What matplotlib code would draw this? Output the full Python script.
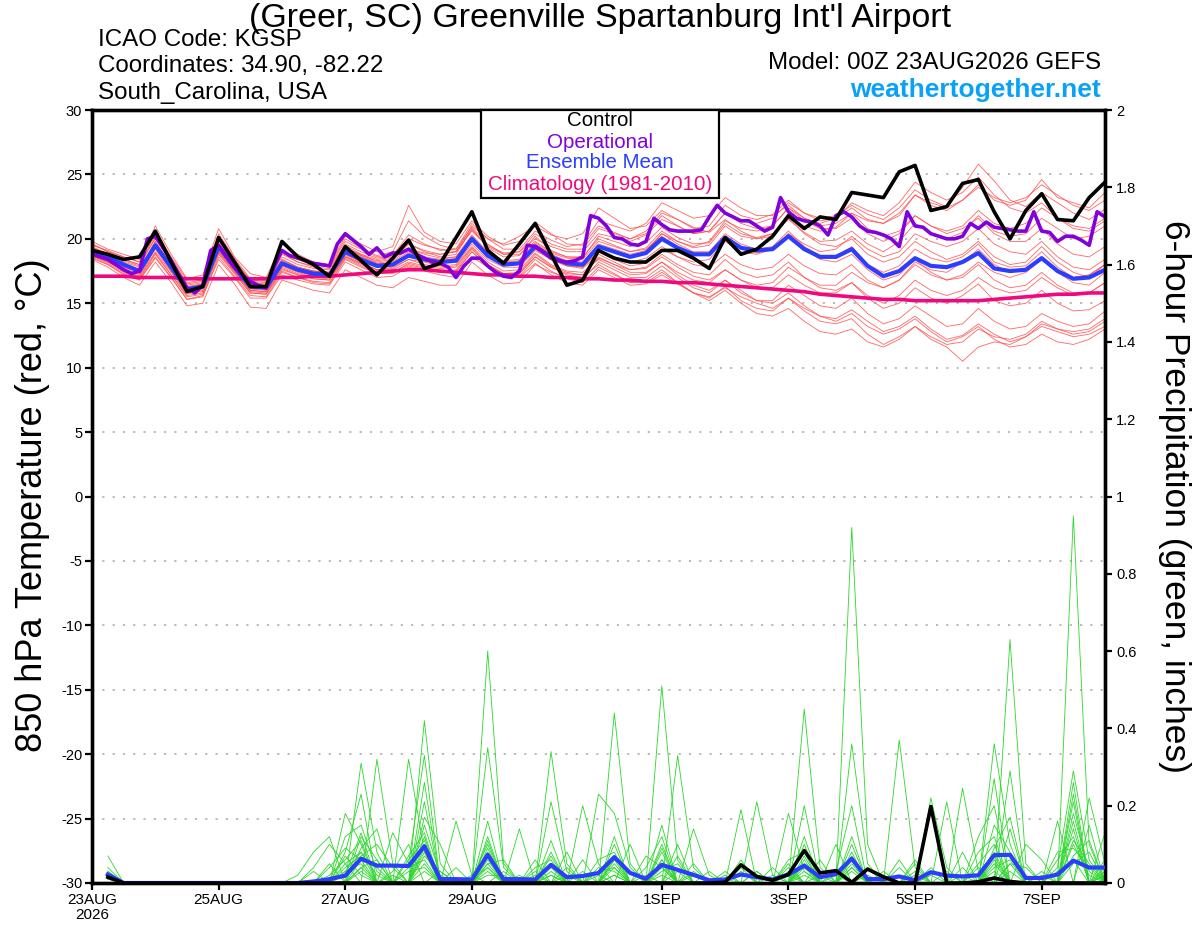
import numpy as np
import pandas as pd
import matplotlib
matplotlib.use("Agg")
import matplotlib.pyplot as plt
from matplotlib.patches import Rectangle

# ---- data --------------------------------------------------------------
run_start = "2026-08-23 00:00"

# control (c00) 850 hPa temperature, 6-hourly, 0..384 h
ctrl_temp = [19.1, 18.8, 18.4, 18.6, 20.6, 18.2, 15.9, 16.3, 20.1, 18.2,
             16.3, 16.3, 19.8, 18.6, 18.0, 17.1, 19.4, 18.3, 17.2, 18.5,
             19.9, 17.7, 18.1, 20.1, 22.1, 19.1, 18.1, 19.6, 21.2, 18.8,
             16.4, 16.8, 19.1, 18.5, 18.2, 18.2, 19.1, 19.1, 18.5, 17.7,
             20.1, 18.8, 19.2, 20.2, 21.8, 20.8, 21.7, 21.5, 23.6, 23.4,
             23.2, 25.2, 25.7, 22.2, 22.5, 24.3, 24.6, 22.1, 20.0, 22.2,
             23.5, 21.5, 21.4, 23.2, 24.4]

# operational GFS, 3-hourly
oper_temp = [18.8, 18.6, 18.4, 18.0, 17.6, 17.3, 17.5, 20.0, 20.2, 19.3,
             18.3, 17.2, 16.2, 15.8, 16.4, 19.1, 19.5, 18.6, 17.8, 17.2,
             16.7, 16.4, 16.2, 17.8, 19.1, 18.7, 18.5, 18.3, 18.1, 18.0,
             17.9, 19.6, 20.4, 19.9, 19.4, 18.8, 19.3, 18.6, 18.9, 18.9,
             19.2, 18.8, 18.5, 18.2, 18.1, 17.8, 17.0, 17.9, 18.5, 18.5,
             17.9, 17.4, 17.1, 17.0, 17.5, 19.5, 19.4, 19.0, 18.5, 18.3,
             18.2, 18.3, 18.6, 21.8, 21.6, 21.0, 20.1, 20.0, 19.6, 19.5,
             19.8, 21.6, 21.1, 20.7, 20.6, 20.6, 20.6, 20.7, 21.7, 22.6,
             22.0, 21.7, 21.4, 21.4, 21.0, 20.6, 20.9, 23.2, 22.1, 21.6,
             21.4, 21.3, 21.0, 20.3, 21.8, 22.1, 21.7, 21.0, 20.6, 20.5,
             20.3, 20.0, 19.4, 22.1, 21.0, 20.9, 20.4, 20.2, 20.0, 20.0,
             20.2, 21.2, 20.8, 21.3, 20.9, 20.8, 20.7, 20.6, 20.6, 22.1,
             20.6, 20.5, 19.8, 20.2, 20.2, 19.9, 19.5, 22.1, 21.7]

mean_temp = [19.1, 18.6, 18.0, 17.5, 19.5, 17.8, 16.1, 16.3, 19.4, 17.8,
             16.3, 16.2, 18.1, 17.6, 17.3, 17.2, 19.0, 18.4, 17.9, 18.0,
             18.7, 18.4, 18.2, 18.3, 20.0, 18.7, 18.0, 18.1, 19.4, 18.6,
             18.1, 18.0, 19.4, 19.0, 18.6, 18.9, 20.0, 19.3, 18.8, 18.8,
             20.1, 19.3, 19.1, 19.2, 20.2, 19.2, 18.6, 18.6, 19.2, 17.9,
             17.1, 17.5, 18.5, 17.9, 17.8, 18.2, 18.9, 17.7, 17.5, 17.6,
             18.5, 17.5, 16.9, 17.0, 17.6]

clim_temp = [17.1, 17.1, 17.1, 17.0, 17.0, 17.0, 16.9, 16.9, 16.9, 16.9,
             16.9, 16.9, 17.0, 17.0, 17.1, 17.1, 17.2, 17.3, 17.4, 17.5,
             17.6, 17.6, 17.5, 17.4, 17.3, 17.2, 17.2, 17.1, 17.1, 17.0,
             17.0, 16.9, 16.9, 16.8, 16.8, 16.7, 16.7, 16.6, 16.6, 16.5,
             16.4, 16.3, 16.2, 16.1, 16.0, 15.9, 15.7, 15.6, 15.5, 15.4,
             15.3, 15.3, 15.2, 15.2, 15.2, 15.2, 15.2, 15.3, 15.4, 15.5,
             15.6, 15.7, 15.7, 15.8, 15.8]

# perturbed members, 850 hPa temperature (thin red)
member_temps = [
    [19.6, 19.0, 18.6, 18.2, 21.0, 18.8, 16.9, 17.2, 20.8, 18.6, 17.3, 17.0, 19.6, 18.8, 18.2, 18.0,
     20.2, 19.6, 19.0, 19.4, 22.6, 20.5, 19.8, 19.6, 21.4, 20.2, 19.5, 19.8, 21.3, 20.4, 19.6, 19.5,
     21.0, 20.5, 20.0, 20.6, 22.0, 21.5, 20.8, 21.0, 22.6, 21.8, 21.5, 21.9, 23.0, 22.0, 21.6, 21.8,
     22.6, 21.9, 21.5, 22.4, 23.8, 23.0, 22.5, 24.0, 25.8, 24.5, 23.0, 22.5, 23.6, 22.8, 22.0, 21.5, 22.3],
    [18.5, 18.0, 17.2, 16.8, 18.5, 17.0, 15.3, 15.6, 18.4, 17.0, 15.4, 15.4, 17.2, 16.8, 16.5, 16.4,
     18.2, 17.6, 17.0, 17.1, 17.8, 17.5, 17.2, 17.0, 18.6, 17.8, 17.0, 17.0, 18.1, 17.2, 16.6, 16.4,
     17.6, 17.0, 16.4, 16.5, 17.2, 16.5, 15.8, 15.5, 16.2, 15.5, 15.0, 14.6, 15.4, 14.6, 14.0, 13.8,
     14.5, 13.6, 12.8, 13.2, 14.0, 13.0, 12.2, 12.5, 13.4, 12.6, 12.0, 12.4, 13.2, 12.8, 12.4, 12.6, 13.2],
    [19.4, 18.8, 18.3, 17.9, 20.1, 18.2, 16.4, 16.6, 19.9, 18.1, 16.6, 16.5, 18.6, 18.0, 17.7, 17.6,
     19.5, 18.8, 18.2, 18.4, 19.6, 19.0, 18.6, 18.8, 20.8, 19.3, 18.6, 18.7, 20.2, 19.1, 18.6, 18.5,
     20.2, 19.8, 19.4, 19.7, 20.9, 20.1, 19.6, 19.7, 21.2, 20.4, 20.1, 20.4, 21.5, 20.5, 19.8, 19.9,
     20.6, 19.6, 19.0, 19.8, 21.2, 20.4, 20.0, 20.5, 21.8, 20.6, 20.2, 20.4, 21.6, 20.8, 20.0, 20.2, 21.0],
    [18.7, 18.1, 17.4, 16.9, 18.8, 17.2, 15.5, 15.7, 18.8, 17.3, 15.8, 15.7, 17.5, 17.0, 16.6, 16.5,
     18.4, 17.8, 17.3, 17.4, 18.0, 17.7, 17.4, 17.6, 19.2, 18.0, 17.3, 17.4, 18.8, 17.9, 17.4, 17.2,
     18.5, 18.0, 17.6, 17.8, 18.8, 18.0, 17.4, 17.2, 18.4, 17.4, 17.0, 17.2, 18.2, 17.0, 16.2, 16.0,
     16.6, 15.4, 14.6, 15.0, 16.2, 15.4, 15.0, 15.6, 16.5, 15.2, 14.8, 15.0, 16.0, 15.0, 14.4, 14.5, 15.2],
    [19.2, 18.7, 18.1, 17.6, 19.8, 18.0, 16.2, 16.5, 19.6, 18.0, 16.5, 16.4, 18.4, 17.8, 17.5, 17.4,
     19.2, 18.7, 18.3, 18.5, 19.2, 18.9, 18.8, 19.0, 20.6, 19.4, 18.8, 19.0, 20.0, 19.4, 19.0, 19.0,
     20.4, 20.1, 19.8, 20.3, 21.5, 21.0, 20.4, 20.6, 22.0, 21.4, 21.2, 21.6, 22.8, 22.0, 21.4, 21.6,
     22.4, 21.5, 21.2, 21.8, 23.4, 22.6, 22.2, 23.0, 24.2, 23.0, 22.6, 23.0, 24.6, 23.2, 22.8, 22.4, 23.6],
    [18.9, 18.3, 17.7, 17.2, 19.2, 17.5, 15.8, 15.9, 19.0, 17.5, 15.9, 15.8, 17.7, 17.2, 16.9, 16.8,
     18.6, 18.0, 17.4, 17.4, 18.1, 17.8, 17.5, 17.4, 19.0, 17.9, 17.2, 17.1, 18.4, 17.5, 16.9, 16.6,
     17.8, 17.2, 16.6, 16.8, 17.6, 16.6, 15.8, 15.4, 16.3, 15.2, 14.6, 14.4, 15.4, 14.4, 13.6, 13.4,
     13.8, 12.6, 11.8, 12.4, 13.2, 12.2, 11.6, 10.5, 11.6, 12.0, 11.8, 12.4, 13.4, 13.0, 12.8, 13.0, 13.8],
    [19.0, 18.5, 17.9, 17.4, 19.4, 17.6, 15.9, 16.1, 19.2, 17.6, 16.0, 15.9, 17.9, 17.4, 17.0, 17.0,
     18.9, 18.4, 18.0, 18.2, 19.0, 18.6, 18.4, 18.6, 20.2, 18.9, 18.2, 18.3, 19.6, 18.8, 18.3, 18.2,
     19.6, 19.2, 18.8, 19.1, 20.4, 19.6, 19.0, 19.0, 20.4, 19.6, 19.2, 19.4, 20.6, 19.4, 18.7, 18.6,
     19.4, 18.0, 17.4, 17.9, 19.2, 18.5, 18.2, 18.6, 19.6, 18.2, 17.8, 17.9, 19.0, 17.8, 17.0, 17.2, 18.0],
    [19.8, 19.2, 18.8, 18.4, 20.6, 18.6, 16.8, 17.0, 20.4, 18.5, 16.9, 16.8, 19.0, 18.4, 18.0, 17.8,
     19.8, 19.2, 18.6, 18.8, 20.0, 19.5, 19.2, 19.0, 21.0, 20.0, 19.6, 20.2, 21.0, 20.3, 20.0, 20.4,
     22.4, 21.6, 20.8, 21.0, 22.2, 21.5, 20.9, 20.5, 21.5, 20.6, 20.0, 20.2, 21.6, 20.4, 19.6, 19.4,
     20.0, 18.8, 18.2, 18.6, 19.8, 19.0, 18.4, 18.8, 19.8, 18.6, 18.0, 18.2, 19.4, 18.2, 17.4, 17.0, 18.0],
    [18.4, 17.8, 17.0, 16.4, 18.2, 16.6, 14.8, 15.0, 18.0, 16.5, 14.7, 14.6, 16.8, 16.4, 16.0, 15.8,
     17.6, 17.0, 16.4, 16.2, 17.0, 16.7, 16.4, 16.4, 18.2, 17.2, 16.5, 16.6, 18.0, 17.4, 17.0, 16.8,
     18.2, 17.6, 17.0, 17.0, 17.9, 17.0, 16.2, 15.8, 16.8, 16.0, 15.2, 15.2, 16.4, 15.6, 14.8, 14.6,
     15.4, 14.2, 13.4, 13.8, 14.8, 14.0, 13.2, 13.4, 14.6, 13.6, 13.0, 13.2, 14.2, 13.6, 13.2, 13.4, 14.4],
    [19.3, 18.9, 18.4, 18.0, 20.3, 18.4, 16.6, 16.8, 20.0, 18.3, 16.8, 16.7, 18.9, 18.2, 17.8, 17.7,
     19.6, 19.0, 18.5, 18.7, 20.3, 19.6, 19.1, 19.2, 20.9, 19.6, 18.8, 18.8, 19.8, 19.0, 18.6, 18.6,
     20.0, 19.5, 19.0, 19.3, 20.6, 19.8, 19.3, 19.5, 21.0, 20.2, 20.0, 20.4, 21.6, 21.0, 20.6, 20.9,
     22.0, 21.4, 21.2, 22.0, 23.4, 22.8, 22.4, 23.0, 24.0, 23.2, 22.8, 23.2, 24.2, 23.4, 22.6, 22.2, 23.0],
    [18.8, 18.4, 17.8, 17.3, 19.3, 17.6, 15.9, 16.2, 19.3, 17.7, 16.2, 16.1, 18.0, 17.5, 17.2, 17.0,
     18.8, 18.2, 17.6, 17.8, 18.4, 18.2, 17.9, 18.0, 19.6, 18.4, 17.8, 17.8, 19.1, 18.4, 17.9, 17.8,
     19.0, 18.6, 18.2, 18.5, 19.4, 18.6, 18.0, 17.8, 18.8, 18.0, 17.6, 17.8, 18.8, 17.9, 17.3, 17.2,
     18.0, 16.8, 16.2, 16.8, 18.2, 17.6, 17.4, 18.2, 19.2, 18.0, 17.4, 17.6, 18.6, 17.4, 16.6, 16.4, 17.4],
    [19.5, 19.1, 18.6, 18.2, 20.4, 18.5, 16.5, 16.7, 20.2, 18.4, 16.7, 16.6, 18.8, 18.2, 17.9, 17.9,
     20.0, 19.3, 18.7, 19.0, 21.4, 20.2, 19.5, 19.2, 21.2, 20.0, 19.2, 19.2, 20.6, 19.9, 19.4, 19.6,
     21.4, 21.0, 20.6, 21.2, 22.8, 22.2, 21.6, 21.8, 23.2, 22.4, 21.8, 21.8, 22.6, 21.6, 21.0, 21.2,
     22.0, 20.8, 20.2, 20.6, 21.8, 21.0, 20.6, 21.0, 22.2, 21.2, 20.8, 21.2, 22.4, 21.6, 21.0, 20.8, 21.6],
    [18.6, 18.0, 17.3, 16.8, 18.6, 17.0, 15.3, 15.5, 18.6, 17.1, 15.6, 15.5, 17.4, 17.0, 16.7, 16.6,
     18.5, 17.9, 17.3, 17.3, 17.9, 17.6, 17.4, 17.5, 19.0, 17.9, 17.3, 17.3, 18.6, 17.8, 17.3, 17.2,
     18.6, 18.0, 17.4, 17.4, 18.2, 17.2, 16.4, 16.0, 16.8, 15.8, 15.2, 15.0, 15.8, 14.8, 14.0, 13.6,
     14.2, 13.2, 12.6, 13.0, 13.8, 12.8, 12.0, 12.4, 13.2, 12.2, 11.6, 11.8, 12.6, 12.0, 11.8, 12.2, 13.0],
    [19.2, 18.6, 17.9, 17.6, 19.6, 17.9, 16.2, 16.4, 19.4, 17.8, 16.2, 16.1, 18.1, 17.7, 17.4, 17.3,
     19.2, 18.6, 18.1, 18.1, 18.8, 18.5, 18.3, 18.5, 20.1, 18.8, 18.1, 18.2, 19.5, 18.6, 18.0, 17.8,
     19.0, 18.4, 17.9, 18.1, 19.2, 18.6, 18.2, 18.4, 19.8, 19.0, 18.8, 19.2, 20.4, 19.6, 19.0, 19.2,
     20.2, 19.2, 18.6, 19.0, 20.4, 19.8, 19.4, 19.8, 20.8, 19.6, 19.0, 18.8, 19.8, 18.6, 17.8, 17.6, 18.4],
    [18.9, 18.4, 17.8, 17.5, 19.5, 17.8, 16.1, 16.3, 19.1, 17.7, 16.3, 16.3, 18.2, 17.6, 17.3, 17.2,
     18.9, 18.3, 17.8, 17.9, 18.6, 18.3, 18.1, 18.3, 19.8, 18.6, 17.9, 18.0, 19.2, 18.4, 17.9, 17.7,
     18.8, 18.2, 17.6, 17.7, 18.6, 17.8, 17.1, 16.8, 17.6, 16.8, 16.2, 16.2, 17.2, 16.4, 15.8, 15.8,
     16.6, 15.6, 15.0, 15.6, 16.8, 16.0, 15.6, 16.0, 17.0, 16.2, 15.8, 16.0, 17.0, 16.2, 15.6, 15.8, 16.6],
    [19.6, 19.0, 18.4, 18.0, 20.0, 18.2, 16.3, 16.5, 19.7, 18.0, 16.4, 16.3, 18.3, 17.8, 17.5, 17.4,
     19.3, 18.8, 18.4, 18.6, 19.6, 19.1, 18.8, 19.0, 20.7, 19.5, 18.9, 19.0, 20.4, 19.6, 19.2, 19.2,
     20.8, 20.4, 20.0, 20.4, 21.8, 21.0, 20.4, 20.6, 22.0, 21.2, 20.8, 21.0, 22.4, 21.4, 20.8, 20.8,
     21.6, 20.4, 19.8, 20.4, 21.8, 21.0, 20.4, 20.8, 21.6, 20.4, 19.8, 19.8, 20.8, 19.6, 18.8, 18.6, 19.4],
    [18.8, 18.2, 17.5, 17.0, 18.9, 17.2, 15.6, 15.8, 18.9, 17.4, 15.8, 15.7, 17.6, 17.2, 16.9, 16.8,
     18.6, 18.1, 17.6, 17.6, 18.2, 17.9, 17.7, 17.8, 19.3, 18.0, 17.3, 17.3, 18.6, 17.8, 17.2, 17.0,
     18.0, 17.3, 16.6, 16.6, 17.4, 16.6, 15.8, 15.2, 16.0, 15.0, 14.2, 14.0, 14.6, 13.6, 12.8, 12.6,
     13.0, 12.0, 11.6, 12.2, 13.2, 12.4, 11.8, 12.0, 13.0, 12.4, 12.2, 12.6, 13.6, 13.0, 12.6, 12.8, 13.6],
    [19.3, 18.8, 18.2, 17.8, 19.6, 17.9, 16.2, 16.4, 19.6, 18.0, 16.4, 16.4, 18.4, 17.8, 17.5, 17.4,
     19.3, 18.7, 18.1, 18.3, 19.2, 18.8, 18.5, 18.6, 20.3, 19.0, 18.3, 18.4, 19.7, 18.9, 18.5, 18.4,
     19.8, 19.4, 19.0, 19.2, 20.2, 19.4, 18.8, 18.8, 20.0, 19.2, 18.9, 19.2, 20.4, 19.2, 18.4, 18.2,
     18.8, 17.6, 16.8, 17.2, 18.4, 17.4, 16.8, 17.0, 18.0, 16.8, 16.2, 16.4, 17.4, 16.4, 15.8, 15.8, 16.6],
    [19.0, 18.5, 18.0, 17.6, 19.8, 17.9, 16.0, 16.2, 19.3, 17.8, 16.1, 16.0, 18.0, 17.5, 17.1, 17.0,
     18.8, 18.3, 17.8, 18.0, 18.9, 18.5, 18.2, 18.3, 19.9, 18.7, 18.0, 18.1, 19.4, 18.6, 18.1, 18.0,
     19.4, 19.0, 18.6, 19.0, 20.4, 19.8, 19.4, 19.8, 21.4, 20.8, 20.6, 21.0, 22.4, 21.6, 21.2, 21.6,
     22.8, 22.2, 21.8, 22.8, 24.4, 23.6, 23.0, 23.6, 24.8, 23.4, 22.4, 22.0, 22.8, 21.6, 20.8, 20.6, 21.4],
    [18.7, 18.2, 17.6, 17.1, 19.0, 17.4, 15.7, 16.0, 19.0, 17.5, 16.0, 15.9, 17.8, 17.3, 17.0, 16.9,
     18.7, 18.1, 17.6, 17.7, 18.4, 18.0, 17.8, 17.9, 19.4, 18.2, 17.5, 17.6, 18.9, 18.0, 17.5, 17.4,
     18.4, 17.8, 17.2, 17.3, 18.2, 17.4, 16.8, 16.6, 17.6, 16.8, 16.4, 16.6, 17.8, 17.0, 16.4, 16.4,
     17.4, 16.6, 16.2, 16.8, 18.0, 17.2, 16.8, 17.2, 18.2, 17.4, 17.0, 17.4, 18.4, 17.6, 17.0, 17.2, 18.0],
]

# 6-hour precipitation (inches), valid 6..384 h
ctrl_precip = [0.015, 0, 0, 0, 0, 0, 0, 0, 0, 0, 0, 0, 0, 0, 0, 0,
               0, 0, 0, 0, 0, 0, 0, 0, 0, 0, 0, 0, 0, 0, 0, 0,
               0, 0, 0, 0, 0, 0, 0, 0.002, 0.047, 0.017, 0.007, 0.022, 0.084, 0.026, 0.032, 0.002,
               0.036, 0.016, 0, 0, 0.198, 0, 0, 0.003, 0.013, 0.004, 0, 0, 0, 0, 0, 0]

mean_precip = [0.022, 0, 0, 0, 0, 0, 0, 0, 0, 0, 0, 0, 0, 0.004, 0.010, 0.019,
               0.063, 0.045, 0.045, 0.044, 0.095, 0.010, 0.010, 0.009, 0.073, 0.010, 0.010, 0.009, 0.047, 0.015, 0.018, 0.026,
               0.067, 0.026, 0.011, 0.047, 0.034, 0.021, 0.007, 0.009, 0.022, 0.015, 0.009, 0.022, 0.045, 0.015, 0.023, 0.063,
               0.010, 0.010, 0.017, 0.007, 0.028, 0.019, 0.017, 0.020, 0.072, 0.073, 0.013, 0.013, 0.022, 0.058, 0.040, 0.040]

# perturbed members precip: {6h step index: inches}, all other steps dry
member_precip = [
    {1: .07, 16: .18, 17: .10, 21: .42, 22: .05, 25: .60, 26: .05, 33: .04, 36: .06, 48: .92, 49: .10, 57: .05, 62: .10, 63: .02},
    {1: .04, 17: .31, 18: .08, 21: .10, 25: .16, 29: .34, 30: .05, 33: .44, 34: .05, 38: .02, 41: .19, 45: .10, 52: .05, 58: .63, 59: .05, 64: .02},
    {1: .03, 15: .05, 18: .32, 19: .05, 22: .03, 25: .35, 26: .04, 31: .20, 32: .05, 36: .51, 37: .06, 44: .18, 45: .03, 51: .37, 52: .04, 57: .27, 61: .16},
    {1: .02, 16: .08, 17: .23, 20: .32, 21: .08, 27: .14, 29: .21, 30: .03, 37: .33, 38: .04, 42: .21, 43: .02, 48: .36, 49: .05, 55: .245, 56: .03, 62: .95, 63: .10},
    {1: .03, 14: .04, 15: .10, 16: .05, 19: .13, 20: .05, 21: .33, 24: .02, 25: .07, 32: .23, 33: .18, 34: .04, 40: .03, 45: .45, 46: .04, 53: .22, 54: .04, 58: .29, 63: .22, 64: .05},
    {1: .01, 17: .12, 18: .06, 21: .21, 23: .16, 24: .02, 28: .04, 29: .06, 35: .04, 36: .12, 38: .14, 39: .02, 44: .05, 47: .10, 50: .03, 54: .21, 57: .36, 58: .10, 64: .13},
    {1: .02, 16: .05, 17: .08, 19: .03, 20: .10, 25: .08, 30: .08, 33: .07, 36: .15, 41: .04, 45: .20, 48: .08, 52: .03, 56: .08, 57: .12, 59: .10, 60: .06, 62: .26, 64: .04},
    {13: .02, 14: .08, 15: .12, 17: .04, 18: .06, 21: .17, 22: .10, 26: .03, 29: .05, 32: .02, 34: .10, 37: .07, 40: .02, 46: .06, 48: .12, 53: .04, 55: .08, 58: .14, 61: .04, 62: .29, 63: .06},
    {1: .01, 15: .04, 16: .09, 17: .06, 20: .07, 21: .13, 25: .04, 28: .06, 30: .02, 33: .10, 36: .09, 42: .03, 44: .06, 45: .08, 49: .04, 51: .06, 56: .12, 57: .20, 62: .07, 63: .11},
    {14: .03, 16: .12, 17: .15, 18: .03, 21: .26, 25: .11, 29: .02, 31: .06, 35: .07, 36: .04, 39: .03, 43: .04, 45: .06, 47: .03, 48: .20, 52: .06, 57: .09, 58: .17, 60: .03, 63: .15},
    {16: .03, 17: .05, 19: .02, 21: .09, 23: .04, 25: .03, 27: .02, 29: .11, 32: .04, 33: .03, 36: .06, 38: .05, 44: .02, 46: .02, 48: .05, 50: .02, 55: .04, 57: .06, 61: .06, 62: .12, 64: .06},
    {17: .09, 18: .14, 20: .04, 21: .06, 24: .01, 25: .10, 30: .04, 33: .12, 37: .10, 41: .06, 45: .12, 48: .03, 53: .02, 58: .05, 59: .04, 62: .18, 63: .03},
    {15: .02, 16: .06, 17: .11, 21: .15, 22: .02, 25: .05, 26: .06, 29: .08, 36: .03, 37: .05, 42: .03, 45: .05, 49: .02, 56: .05, 57: .10, 60: .02, 62: .21, 64: .02},
    {16: .04, 17: .07, 18: .10, 19: .04, 21: .05, 25: .12, 28: .02, 32: .06, 33: .08, 35: .02, 40: .01, 44: .04, 48: .06, 54: .03, 57: .15, 58: .08, 62: .23},
    {17: .03, 20: .06, 21: .11, 25: .06, 29: .04, 31: .03, 33: .05, 36: .08, 38: .03, 45: .04, 47: .02, 51: .04, 57: .04, 58: .06, 61: .08, 62: .09, 63: .04},
    {16: .02, 17: .13, 21: .07, 22: .03, 25: .09, 29: .03, 33: .06, 34: .03, 36: .10, 43: .02, 45: .07, 48: .04, 55: .02, 58: .03, 62: .14, 64: .03},
    {17: .06, 18: .04, 21: .08, 25: .02, 26: .02, 29: .07, 33: .02, 36: .05, 41: .03, 45: .03, 52: .02, 57: .08, 62: .05, 63: .08},
    {16: .07, 17: .02, 20: .03, 21: .04, 25: .05, 29: .02, 32: .03, 33: .04, 37: .03, 44: .03, 48: .07, 56: .04, 58: .05, 61: .03, 62: .06},
    {1: .02, 17: .04, 21: .12, 25: .07, 29: .05, 33: .06, 36: .04, 45: .05, 48: .10, 57: .07, 62: .16, 64: .02},
    {1: .02, 16: .03, 17: .08, 18: .02, 21: .03, 24: .01, 25: .04, 28: .03, 33: .02, 36: .02, 45: .02, 48: .04, 57: .03, 62: .11, 63: .05},
]

tick_dates = ["2026-08-23", "2026-08-25", "2026-08-27", "2026-08-29",
              "2026-09-01", "2026-09-03", "2026-09-05", "2026-09-07"]
tick_labels = ["23AUG\n2026", "25AUG", "27AUG", "29AUG", "1SEP", "3SEP", "5SEP", "7SEP"]
temp_ticks = [-30, -25, -20, -15, -10, -5, 0, 5, 10, 15, 20, 25, 30]
precip_ticks = [0, 0.2, 0.4, 0.6, 0.8, 1.0, 1.2, 1.4, 1.6, 1.8, 2.0]
precip_labels = ["0", "0.2", "0.4", "0.6", "0.8", "1", "1.2", "1.4", "1.6", "1.8", "2"]

# ---- colours ------------------------------------------------------------
RED = "#ff4a4a"
GREEN = "#2ad82a"
PURPLE = "#8200dc"
BLUE = "#2b3dff"
PINK = "#f0087f"
WEB = "#0aa2f5"

plt.rcParams["font.family"] = ["Liberation Sans", "DejaVu Sans"]


def main():
    t6 = pd.date_range(run_start, periods=len(ctrl_temp), freq="6h")
    t3 = pd.date_range(run_start, periods=len(oper_temp), freq="3h")
    tp = t6[1:]

    fig = plt.figure(figsize=(12, 9.27), dpi=100)
    ax = fig.add_axes([92 / 1200, 1 - 883 / 927, 1013 / 1200, 773 / 927])
    ax2 = ax.twinx()

    # temperature
    for m in member_temps:
        ax.plot(t6, m, color=RED, lw=0.6, alpha=0.85, zorder=2)
    ax.plot(t6, clim_temp, color=PINK, lw=2.6, zorder=3)
    ax.plot(t6, mean_temp, color=BLUE, lw=3.0, zorder=4)
    ax.plot(t3, oper_temp, color=PURPLE, lw=2.6, zorder=5)
    ax.plot(t6, ctrl_temp, color="black", lw=2.6, zorder=6)

    # precipitation
    for d in member_precip:
        p = np.zeros(len(tp))
        for k, v in d.items():
            p[k - 1] = v
        ax2.plot(tp, p, color=GREEN, lw=0.6, zorder=2)
    ax2.plot(tp, mean_precip, color=BLUE, lw=3.0, zorder=4)
    ax2.plot(tp, ctrl_precip, color="black", lw=2.6, zorder=5)

    ax.set_xlim(t6[0], t6[-1])
    ax.set_ylim(-30, 30)
    ax2.set_ylim(0, 2)

    ax.set_yticks(temp_ticks)
    ax.set_yticklabels([str(v) for v in temp_ticks])
    ax2.set_yticks(precip_ticks)
    ax2.set_yticklabels(precip_labels)
    ax.set_xticks(pd.to_datetime(tick_dates))
    ax.set_xticklabels(tick_labels, linespacing=1.15)

    ax.grid(axis="y", color="#b4b4b4", linestyle=(0, (1.2, 4.5)), lw=1.3)
    ax.set_axisbelow(True)

    for a in (ax, ax2):
        for s in a.spines.values():
            s.set_linewidth(2.4)
    ax.tick_params(axis="both", direction="out", length=5, width=1.6, labelsize=10.5, pad=2)
    ax.tick_params(axis="x", labelsize=11, pad=2)
    ax2.tick_params(axis="y", direction="out", length=5, width=1.6, labelsize=10.5, pad=3)

    # axis titles
    fig.text(33 / 1200, 1 - 505 / 927, "850 hPa Temperature (red, °C)",
             rotation=90, ha="center", va="center", fontsize=26)
    fig.text(1175 / 1200, 1 - 496 / 927, "6-hour Precipitation (green, inches)",
             rotation=-90, ha="center", va="center", fontsize=25.5)

    # header
    fig.text(0.5, 1 - 18 / 927, "(Greer, SC) Greenville Spartanburg Int'l Airport",
             ha="center", va="center", fontsize=24.5)
    fig.text(98 / 1200, 1 - 40 / 927, "ICAO Code: KGSP", ha="left", va="center", fontsize=17.4)
    fig.text(98 / 1200, 1 - 66 / 927, "Coordinates: 34.90, -82.22", ha="left", va="center", fontsize=17.4)
    fig.text(98 / 1200, 1 - 93 / 927, "South_Carolina, USA", ha="left", va="center", fontsize=17.4)
    fig.text(1101 / 1200, 1 - 63 / 927, "Model: 00Z 23AUG2026 GEFS", ha="right", va="center", fontsize=17.4)
    fig.text(1101 / 1200, 1 - 90 / 927, "weathertogether.net", ha="right", va="center",
             fontsize=19, fontweight="bold", color=WEB)

    # legend box
    fig.add_artist(Rectangle((481 / 1200, 1 - 198 / 927), 238 / 1200, 88 / 927,
                             transform=fig.transFigure, facecolor="white",
                             edgecolor="black", lw=1.6, zorder=10))
    legend_items = [("Control", "black", 121), ("Operational", PURPLE, 142),
                    ("Ensemble Mean", BLUE, 163), ("Climatology (1981-2010)", PINK, 185)]
    for name, col, ypx in legend_items:
        fig.text(600 / 1200, 1 - ypx / 927, name, color=col, ha="center", va="center",
                 fontsize=14.8, zorder=11)

    fig.savefig("out.png", dpi=100)


if __name__ == "__main__":
    main()
